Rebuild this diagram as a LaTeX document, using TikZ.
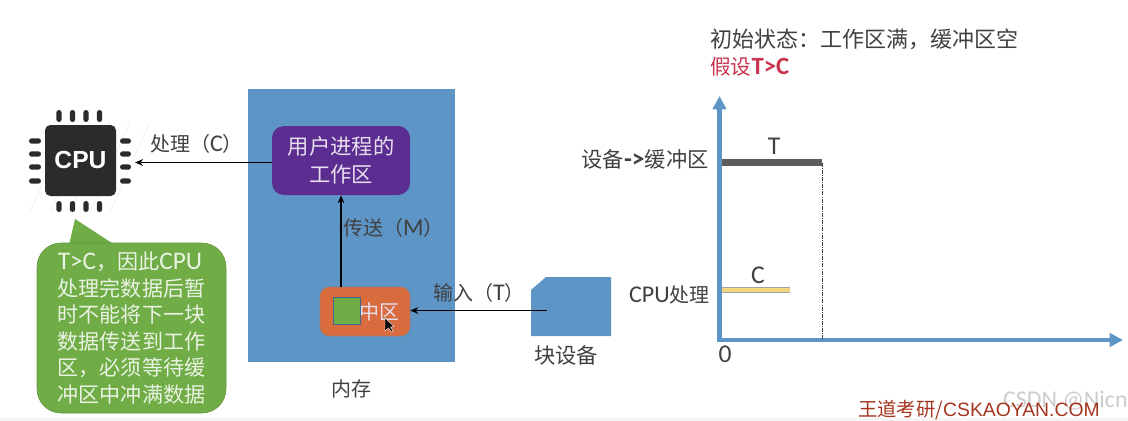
\documentclass[tikz,border=0pt]{standalone}
\usepackage{fontspec}
\setmainfont{Noto Sans CJK SC}
\newfontfamily\latinfont[Scale=1.2]{Carlito}
\newfontfamily\arialfont{Liberation Sans}
\usetikzlibrary{arrows.meta, positioning, calc}
\definecolor{myBlue}{HTML}{5E95C7}
\definecolor{myPurple}{HTML}{5C2D91}
\definecolor{myOrange}{HTML}{D96C3E}
\definecolor{myGreen}{HTML}{70AD47}
\definecolor{myInk}{HTML}{404040}
\definecolor{myChip}{HTML}{2B2B2B}
\definecolor{myRed}{HTML}{C8344F}
\definecolor{myBrown}{HTML}{A5351E}
\definecolor{myYellow}{HTML}{F2D77E}
\definecolor{myEdge}{HTML}{9AA5AE}
\newcommand{\lbl}{\fontsize{15}{18}\selectfont}

\begin{document}
\begin{tikzpicture}[
x=0.75pt, y=-0.75pt,
box/.style={rectangle, rounded corners=9pt, inner sep=0pt, align=center, text=white!85!myPurple},
txt/.style={inner sep=0pt, text=myInk, font=\lbl},
arrow/.style={-{Stealth[length=6pt,width=5pt]}, line width=1pt, black},
axisline/.style={-{Triangle[length=10pt,width=10pt]}, line width=3.4pt, myBlue},
chippin/.style={myChip, rounded corners=2pt}
]
\useasboundingbox (0,0) rectangle (1128,421);
\fill[gray!8] (0,418) rectangle (1128,421);

\foreach \k in {0,1,2,3,4}
  \draw[gray!7, line width=1.2pt] (30+\k*20,212) -- (70+\k*20,122);

\node[rectangle, fill=myChip, rounded corners=4pt, minimum width=53.25pt, minimum height=53.25pt, inner sep=0pt,
  text=white, font=\arialfont\fontsize{18.5}{22}\selectfont\bfseries] (cpu) at (80.5,160.5) {CPU};
\foreach \p in {59,72.5,86,99.5} {
  \fill[chippin] (\p-2.7,110) rectangle (\p+2.7,122);
  \fill[chippin] (\p-2.7,201) rectangle (\p+2.7,212);
}
\foreach \p in {141,154,167,181} {
  \fill[chippin] (29,\p-2.7) rectangle (41,\p+2.7);
  \fill[chippin] (120,\p-2.7) rectangle (131,\p+2.7);
}

\coordinate (tip) at (75,219);
\fill[myGreen] (tip) -- (69,245) -- (115,245) -- cycle;
\node[box, fill=myGreen, draw=myGreen!85!black, rounded corners=18pt, minimum width=141.75pt, minimum height=127.5pt,
  text=white!85!myGreen, align=left, font=\fontsize{15.8}{19.9}\selectfont] (note) at (131.5,328)
  {{\latinfont T>C}，因此{\latinfont CPU}\\处理完数据后暂\\时不能将下一块\\数据传送到工作\\区，必须等待缓\\冲区中冲满数据};

\node[rectangle, fill=myBlue, minimum width=155.25pt, minimum height=204.75pt, inner sep=0pt] (mem) at (351.5,225.5) {};
\node[txt, below=13pt of mem] (memtxt) {内存};
\node[box, fill=myPurple, minimum width=103.5pt, minimum height=51.75pt, font=\fontsize{16}{21}\selectfont] (work) at (341,160.5) {用户进程的\\工作区};
\node[box, fill=myOrange, draw=gray!70!myOrange, rounded corners=7pt, minimum width=67.5pt, minimum height=36.75pt, font=\lbl] (buf) at (365,311.5) {\hspace*{21pt}中区};
\fill[myGreen, draw=myBlue!70!black, line width=0.5pt] (333,297) rectangle (360,324);
\fill[black, draw=white, line width=0.3pt] (385,318) -- (385,331) -- (388.5,328) -- (391.5,332) -- (393,331) -- (390.5,327) -- (394,326.5) -- cycle;

\fill[myBlue] (531,290) -- (546,277) -- (611,277) -- (611,336) -- (531,336) -- cycle;
\coordinate (devbase) at (566,336);
\node[txt, font=\fontsize{16}{18}\selectfont, below=7pt of devbase] (devtxt) {块设备};

\coordinate (cpuport) at (135,162.5);
\coordinate (devport) at (547,310.5);
\draw[arrow] (work.west |- cpuport) -- (cpuport);
\draw[arrow] (buf.north -| work.south) -- (work.south);
\draw[arrow] (devport) -- (buf.east |- devport);
\node[txt] (proc) at (196.5,144) {处理（{\latinfont C}）};
\node[txt] (send) at (393.5,228) {传送（{\latinfont M}）};
\node[txt] (input) at (479,293) {输入（{\latinfont T}）};

\coordinate (origin) at (719.5,340);
\coordinate (ytip) at (719.5,96);
\coordinate (xtip) at (1123,340);
\draw[axisline] ($(origin)+(0,2.3)$) -- (ytip);
\draw[axisline] ($(origin)+(-2.3,0)$) -- (xtip);

\coordinate (tbar) at (722,162.5);
\coordinate (tend) at (822,162.5);
\coordinate (cbar) at (722,290);
\coordinate (cend) at (790,290);
\draw[line width=4.8pt, myInk!85!white] (tbar) -- (tend);
\draw[densely dashdotted, line width=0.5pt, myInk] (tend) -- (tend |- origin);
\draw[line width=4.4pt, myEdge] (cbar) -- (cend);
\draw[line width=3pt, myYellow] (cbar) -- (cend);

\node[txt, font=\fontsize{16.5}{20}\selectfont, anchor=west] (state) at (710,39) {初始状态：工作区满，缓冲区空};
\node[txt, font=\fontsize{15.5}{20}\selectfont, anchor=west, text=myRed] (assume) at (710,67) {假设{\latinfont\bfseries T>C}};
\node[txt, font=\fontsize{16}{18}\selectfont, anchor=east] (ylabA) at (709,159) {设备{\latinfont\bfseries ->}缓冲区};
\node[txt, anchor=east] (ylabB) at (710,295) {{\latinfont CPU}处理};
\node[txt, font=\latinfont\fontsize{16}{18}\selectfont] (tlab) at (774,146) {T};
\node[txt, font=\latinfont\fontsize{16}{18}\selectfont] (clab) at (758,275) {C};
\node[txt, font=\latinfont\fontsize{16}{18}\selectfont] (zero) at (725,354) {0};
\node[inner sep=0pt, anchor=east, text=gray!40, font=\fontsize{15}{18}\selectfont\latinfont] (mark) at (1128,401) {CSDN @Nicn};
\node[inner sep=0pt, anchor=west, text=myBrown, font=\fontsize{14.5}{18}\selectfont] (brand) at (858,410) {王道考研/{\arialfont CSKAOYAN.COM}};
\end{tikzpicture}
\end{document}
